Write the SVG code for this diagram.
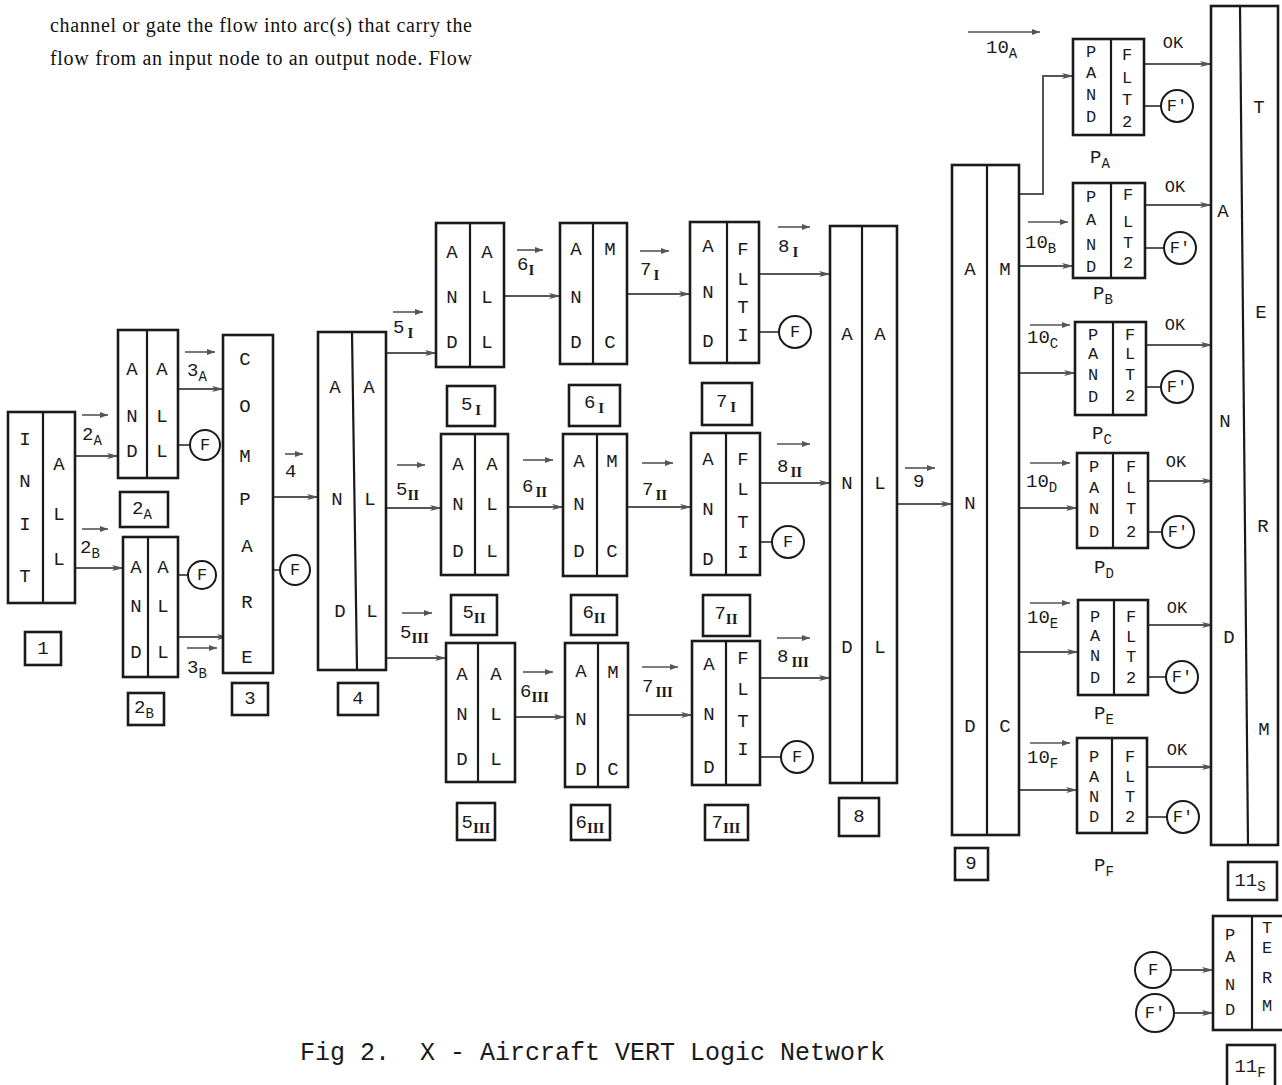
<svg xmlns="http://www.w3.org/2000/svg" width="1282" height="1085" viewBox="0 0 1282 1085">
<defs>
<style>
.b{fill:#fff;stroke:#1a1a1a;stroke-width:2.6}
.lb{fill:none;stroke:#1a1a1a;stroke-width:2.6}
.d{stroke:#1a1a1a;stroke-width:2.2}
.t{font-family:"Liberation Mono",monospace;font-size:19px;fill:#1a1a1a;text-anchor:middle;dominant-baseline:central}
.p{font-size:17px}
.lab{font-family:"Liberation Mono",monospace;font-size:19px;fill:#1a1a1a}
.mid{text-anchor:middle}
.sub{font-size:14px}
.rom{font-family:"Liberation Serif",serif;font-weight:bold;font-size:15px}
.c{fill:none;stroke:#555;stroke-width:2;marker-end:url(#ah)}
.s{stroke:#555;stroke-width:2}
.ov{stroke:#555;stroke-width:1.6;marker-end:url(#ahs)}
.fc{fill:#fff;stroke:#1a1a1a;stroke-width:2}
.para{font-family:"Liberation Serif",serif;font-size:20px;fill:#111}
.cap{font-family:"Liberation Mono",monospace;font-size:25px;fill:#1a1a1a}
</style>
<marker id="ah" viewBox="0 0 12 8" refX="11" refY="4" markerWidth="12" markerHeight="8" markerUnits="userSpaceOnUse" orient="auto"><path d="M0,1 L12,4 L0,7 L3,4 z" fill="#555"/></marker>
<marker id="ahs" viewBox="0 0 8 6" refX="8" refY="3" markerWidth="8" markerHeight="6" markerUnits="userSpaceOnUse" orient="auto"><path d="M0,0 L8,3 L0,6 z" fill="#555"/></marker>
</defs>
<rect width="1282" height="1085" fill="#fff"/>

<g id="paragraph">
<text class="para" x="50" y="32" textLength="422" lengthAdjust="spacing">channel or gate the flow into arc(s) that carry the</text>
<text class="para" x="50" y="65" textLength="422" lengthAdjust="spacing">flow from an input node to an output node. Flow</text>
</g>

<g id="connectors">
<path class="c" d="M75,456 H118"/>
<path class="c" d="M75,568 H123"/>
<path class="c" d="M178,389 H223"/>
<path class="c" d="M178,637 H228"/>
<path class="c" d="M273,497 H318"/>
<path class="c" d="M386,353 H436"/>
<path class="c" d="M386,508 H441"/>
<path class="c" d="M386,658 H446"/>
<path class="c" d="M504,296 H560"/>
<path class="c" d="M508,507 H563"/>
<path class="c" d="M515,717 H565"/>
<path class="c" d="M627,294 H690"/>
<path class="c" d="M627,507 H691"/>
<path class="c" d="M628,715 H692"/>
<path class="c" d="M759,274 H830"/>
<path class="c" d="M760,483 H830"/>
<path class="c" d="M760,678 H830"/>
<path class="c" d="M897,504 H952"/>
<path class="c" d="M1019,194 H1043 V76 H1073"/>
<path class="c" d="M1019,266 H1073"/>
<path class="c" d="M1019,373 H1075"/>
<path class="c" d="M1019,508 H1077"/>
<path class="c" d="M1019,652 H1078"/>
<path class="c" d="M1019,790 H1077"/>
<path class="c" d="M1144,64 H1211"/>
<path class="c" d="M1145,205 H1211"/>
<path class="c" d="M1146,345 H1212"/>
<path class="c" d="M1148,481 H1213"/>
<path class="c" d="M1148,625 H1213"/>
<path class="c" d="M1147,767 H1213"/>
<path class="c" d="M1171,970 H1213"/>
<path class="c" d="M1174,1013 H1213"/>
<line class="s" x1="178" y1="445" x2="190" y2="445"/>
<line class="s" x1="178" y1="575" x2="188" y2="575"/>
<line class="s" x1="273" y1="570" x2="280" y2="570"/>
<line class="s" x1="759" y1="332" x2="779" y2="332"/>
<line class="s" x1="760" y1="542" x2="772" y2="542"/>
<line class="s" x1="760" y1="757" x2="781" y2="757"/>
<line class="s" x1="1144" y1="106" x2="1161" y2="106"/>
<line class="s" x1="1145" y1="248" x2="1164" y2="248"/>
<line class="s" x1="1146" y1="387" x2="1161" y2="387"/>
<line class="s" x1="1148" y1="532" x2="1162" y2="532"/>
<line class="s" x1="1148" y1="677" x2="1166" y2="677"/>
<line class="s" x1="1147" y1="817" x2="1167" y2="817"/>
</g>

<g id="arc-labels">
<line class="ov" x1="82" y1="415" x2="108" y2="415"/><text class="lab" x="82" y="440">2<tspan class="sub" dy="5">A</tspan></text>
<line class="ov" x1="82" y1="529" x2="108" y2="529"/><text class="lab" x="80" y="553">2<tspan class="sub" dy="5">B</tspan></text>
<line class="ov" x1="185" y1="352" x2="215" y2="352"/><text class="lab" x="187" y="376">3<tspan class="sub" dy="5">A</tspan></text>
<line class="ov" x1="187" y1="648" x2="217" y2="648"/><text class="lab" x="187" y="673">3<tspan class="sub" dy="5">B</tspan></text>
<line class="ov" x1="285" y1="454" x2="303" y2="454"/><text class="lab" x="285" y="477">4</text>
<line class="ov" x1="393" y1="312" x2="423" y2="312"/><text class="lab" x="393" y="333">5<tspan class="rom" dx="3" dy="5">I</tspan></text>
<line class="ov" x1="397" y1="465" x2="425" y2="465"/><text class="lab" x="396" y="495">5<tspan class="rom" dy="5">II</tspan></text>
<line class="ov" x1="402" y1="613" x2="432" y2="613"/><text class="lab" x="400" y="638">5<tspan class="rom" dy="5">III</tspan></text>
<line class="ov" x1="517" y1="250" x2="543" y2="250"/><text class="lab" x="517" y="270">6<tspan class="rom" dy="5">I</tspan></text>
<line class="ov" x1="523" y1="460" x2="553" y2="460"/><text class="lab" x="522" y="492">6<tspan class="rom" dx="2" dy="5">II</tspan></text>
<line class="ov" x1="523" y1="672" x2="553" y2="672"/><text class="lab" x="520" y="697">6<tspan class="rom" dy="5">III</tspan></text>
<line class="ov" x1="640" y1="251" x2="669" y2="251"/><text class="lab" x="640" y="275">7<tspan class="rom" dx="2" dy="5">I</tspan></text>
<line class="ov" x1="642" y1="463" x2="673" y2="463"/><text class="lab" x="642" y="495">7<tspan class="rom" dx="2" dy="5">II</tspan></text>
<line class="ov" x1="642" y1="667" x2="678" y2="667"/><text class="lab" x="642" y="692">7<tspan class="rom" dx="2" dy="5">III</tspan></text>
<line class="ov" x1="778" y1="227" x2="810" y2="227"/><text class="lab" x="778" y="252">8<tspan class="rom" dx="3" dy="5">I</tspan></text>
<line class="ov" x1="777" y1="444" x2="810" y2="444"/><text class="lab" x="777" y="472">8<tspan class="rom" dx="2" dy="5">II</tspan></text>
<line class="ov" x1="777" y1="638" x2="810" y2="638"/><text class="lab" x="777" y="662">8<tspan class="rom" dx="3" dy="5">III</tspan></text>
<line class="ov" x1="905" y1="468" x2="935" y2="468"/><text class="lab" x="913" y="487">9</text>
<line class="ov" x1="968" y1="32" x2="1040" y2="32"/><text class="lab" x="986" y="53">10<tspan class="sub" dy="5">A</tspan></text>
<line class="ov" x1="1028" y1="222" x2="1068" y2="222"/><text class="lab" x="1025" y="248">10<tspan class="sub" dy="5">B</tspan></text>
<line class="ov" x1="1030" y1="325" x2="1070" y2="325"/><text class="lab" x="1027" y="343">10<tspan class="sub" dy="5">C</tspan></text>
<line class="ov" x1="1030" y1="463" x2="1070" y2="463"/><text class="lab" x="1026" y="487">10<tspan class="sub" dy="5">D</tspan></text>
<line class="ov" x1="1030" y1="603" x2="1070" y2="603"/><text class="lab" x="1027" y="623">10<tspan class="sub" dy="5">E</tspan></text>
<line class="ov" x1="1030" y1="743" x2="1070" y2="743"/><text class="lab" x="1027" y="763">10<tspan class="sub" dy="5">F</tspan></text>
<text class="t p" x="1173" y="43">OK</text>
<text class="t p" x="1175" y="187">OK</text>
<text class="t p" x="1175" y="325">OK</text>
<text class="t p" x="1176" y="462">OK</text>
<text class="t p" x="1177" y="608">OK</text>
<text class="t p" x="1177" y="750">OK</text>
</g>

<g id="n1">
<rect class="b" x="8" y="412" width="67" height="191"/><line class="d" x1="43" y1="412" x2="43" y2="603"/>
<text class="t" x="25" y="440">I</text><text class="t" x="25" y="482">N</text><text class="t" x="25" y="525">I</text><text class="t" x="25" y="577">T</text>
<text class="t" x="59" y="465">A</text><text class="t" x="59" y="515">L</text><text class="t" x="59" y="560">L</text>
<rect class="lb" x="25" y="632" width="36" height="33"/><text class="t" x="43" y="649">1</text>
</g>

<g id="n2A">
<rect class="b" x="118" y="330" width="60" height="148"/><line class="d" x1="147" y1="330" x2="147" y2="478"/>
<text class="t" x="132" y="370">A</text><text class="t" x="132" y="417">N</text><text class="t" x="132" y="452">D</text>
<text class="t" x="162" y="370">A</text><text class="t" x="162" y="417">L</text><text class="t" x="162" y="452">L</text>
<circle class="fc" cx="205" cy="445" r="15"/><text class="t p" x="205" y="445">F</text>
<rect class="lb" x="120" y="492" width="48" height="35"/><text class="lab mid" x="142" y="514">2<tspan class="sub" dy="5">A</tspan></text>
</g>

<g id="n2B">
<rect class="b" x="123" y="537" width="55" height="140"/><line class="d" x1="148" y1="537" x2="148" y2="677"/>
<text class="t" x="136" y="568">A</text><text class="t" x="136" y="607">N</text><text class="t" x="136" y="653">D</text>
<text class="t" x="163" y="568">A</text><text class="t" x="163" y="607">L</text><text class="t" x="163" y="653">L</text>
<circle class="fc" cx="202" cy="575" r="14"/><text class="t p" x="202" y="575">F</text>
<rect class="lb" x="128" y="693" width="36" height="32"/><text class="lab mid" x="144" y="713">2<tspan class="sub" dy="5">B</tspan></text>
</g>

<g id="n3">
<rect class="b" x="223" y="335" width="50" height="338"/>
<text class="t" x="245" y="360">C</text><text class="t" x="245" y="407">O</text><text class="t" x="245" y="457">M</text><text class="t" x="245" y="500">P</text><text class="t" x="247" y="547">A</text><text class="t" x="247" y="603">R</text><text class="t" x="247" y="658">E</text>
<circle class="fc" cx="295" cy="570" r="15"/><text class="t p" x="295" y="570">F</text>
<rect class="lb" x="232" y="683" width="36" height="32"/><text class="t" x="250" y="699">3</text>
</g>

<g id="n4">
<rect class="b" x="318" y="332" width="68" height="338"/><line class="d" x1="352" y1="332" x2="357" y2="670"/>
<text class="t" x="335" y="388">A</text><text class="t" x="337" y="500">N</text><text class="t" x="340" y="612">D</text>
<text class="t" x="369" y="388">A</text><text class="t" x="370" y="500">L</text><text class="t" x="372" y="612">L</text>
<rect class="lb" x="338" y="683" width="40" height="32"/><text class="t" x="358" y="699">4</text>
</g>

<g id="n5I">
<rect class="b" x="436" y="223" width="68" height="144"/><line class="d" x1="470" y1="223" x2="470" y2="367"/>
<text class="t" x="452" y="253">A</text><text class="t" x="452" y="298">N</text><text class="t" x="452" y="343">D</text>
<text class="t" x="487" y="253">A</text><text class="t" x="487" y="298">L</text><text class="t" x="487" y="343">L</text>
<rect class="lb" x="447" y="386" width="48" height="40"/><text class="lab mid" x="471" y="410">5<tspan class="rom" dx="3" dy="5">I</tspan></text>
</g>

<g id="n5II">
<rect class="b" x="441" y="434" width="67" height="141"/><line class="d" x1="475" y1="434" x2="475" y2="575"/>
<text class="t" x="458" y="465">A</text><text class="t" x="458" y="505">N</text><text class="t" x="458" y="552">D</text>
<text class="t" x="492" y="465">A</text><text class="t" x="492" y="505">L</text><text class="t" x="492" y="552">L</text>
<rect class="lb" x="451" y="595" width="46" height="40"/><text class="lab mid" x="474" y="618">5<tspan class="rom" dy="5">II</tspan></text>
</g>

<g id="n5III">
<rect class="b" x="446" y="643" width="69" height="139"/><line class="d" x1="478" y1="643" x2="478" y2="782"/>
<text class="t" x="462" y="675">A</text><text class="t" x="462" y="715">N</text><text class="t" x="462" y="760">D</text>
<text class="t" x="496" y="675">A</text><text class="t" x="496" y="715">L</text><text class="t" x="496" y="760">L</text>
<rect class="lb" x="457" y="803" width="38" height="37"/><text class="lab mid" x="476" y="828">5<tspan class="rom" dy="5">III</tspan></text>
</g>

<g id="n6I">
<rect class="b" x="560" y="223" width="67" height="141"/><line class="d" x1="593" y1="223" x2="593" y2="364"/>
<text class="t" x="576" y="250">A</text><text class="t" x="576" y="298">N</text><text class="t" x="576" y="343">D</text>
<text class="t" x="610" y="250">M</text><text class="t" x="610" y="343">C</text>
<rect class="lb" x="569" y="385" width="51" height="41"/><text class="lab mid" x="594" y="408">6<tspan class="rom" dx="3" dy="5">I</tspan></text>
</g>

<g id="n6II">
<rect class="b" x="563" y="434" width="64" height="142"/><line class="d" x1="597" y1="434" x2="597" y2="576"/>
<text class="t" x="579" y="462">A</text><text class="t" x="579" y="505">N</text><text class="t" x="579" y="552">D</text>
<text class="t" x="612" y="462">M</text><text class="t" x="612" y="552">C</text>
<rect class="lb" x="571" y="595" width="46" height="40"/><text class="lab mid" x="594" y="618">6<tspan class="rom" dy="5">II</tspan></text>
</g>

<g id="n6III">
<rect class="b" x="565" y="643" width="63" height="144"/><line class="d" x1="598" y1="643" x2="598" y2="787"/>
<text class="t" x="581" y="672">A</text><text class="t" x="581" y="720">N</text><text class="t" x="581" y="770">D</text>
<text class="t" x="613" y="673">M</text><text class="t" x="613" y="770">C</text>
<rect class="lb" x="571" y="805" width="39" height="35"/><text class="lab mid" x="590" y="828">6<tspan class="rom" dy="5">III</tspan></text>
</g>

<g id="n7I">
<rect class="b" x="690" y="222" width="69" height="141"/><line class="d" x1="727" y1="222" x2="727" y2="363"/>
<text class="t" x="708" y="247">A</text><text class="t" x="708" y="293">N</text><text class="t" x="708" y="342">D</text>
<text class="t" x="743" y="250">F</text><text class="t" x="743" y="280">L</text><text class="t" x="743" y="308">T</text><text class="t" x="743" y="336">I</text>
<circle class="fc" cx="795" cy="332" r="16"/><text class="t p" x="795" y="332">F</text>
<rect class="lb" x="702" y="383" width="50" height="42"/><text class="lab mid" x="726" y="407">7<tspan class="rom" dx="3" dy="5">I</tspan></text>
</g>

<g id="n7II">
<rect class="b" x="691" y="433" width="69" height="142"/><line class="d" x1="726" y1="433" x2="726" y2="575"/>
<text class="t" x="708" y="460">A</text><text class="t" x="708" y="510">N</text><text class="t" x="708" y="560">D</text>
<text class="t" x="743" y="460">F</text><text class="t" x="743" y="490">L</text><text class="t" x="743" y="523">T</text><text class="t" x="743" y="553">I</text>
<circle class="fc" cx="788" cy="542" r="16"/><text class="t p" x="788" y="542">F</text>
<rect class="lb" x="703" y="595" width="47" height="41"/><text class="lab mid" x="726" y="619">7<tspan class="rom" dy="5">II</tspan></text>
</g>

<g id="n7III">
<rect class="b" x="692" y="641" width="68" height="144"/><line class="d" x1="726" y1="641" x2="726" y2="785"/>
<text class="t" x="709" y="665">A</text><text class="t" x="709" y="715">N</text><text class="t" x="709" y="768">D</text>
<text class="t" x="743" y="659">F</text><text class="t" x="743" y="690">L</text><text class="t" x="743" y="722">T</text><text class="t" x="743" y="750">I</text>
<circle class="fc" cx="797" cy="757" r="16"/><text class="t p" x="797" y="757">F</text>
<rect class="lb" x="705" y="805" width="43" height="35"/><text class="lab mid" x="726" y="828">7<tspan class="rom" dy="5">III</tspan></text>
</g>

<g id="n8">
<rect class="b" x="830" y="226" width="67" height="557"/><line class="d" x1="862" y1="226" x2="862" y2="783"/>
<text class="t" x="847" y="335">A</text><text class="t" x="847" y="484">N</text><text class="t" x="847" y="648">D</text>
<text class="t" x="880" y="335">A</text><text class="t" x="880" y="484">L</text><text class="t" x="880" y="648">L</text>
<rect class="lb" x="839" y="798" width="40" height="38"/><text class="t" x="859" y="817">8</text>
</g>

<g id="n9">
<rect class="b" x="952" y="165" width="67" height="670"/><line class="d" x1="987" y1="165" x2="987" y2="835"/>
<text class="t" x="970" y="270">A</text><text class="t" x="970" y="504">N</text><text class="t" x="970" y="727">D</text>
<text class="t" x="1005" y="270">M</text><text class="t" x="1005" y="727">C</text>
<rect class="lb" x="955" y="848" width="33" height="32"/><text class="t" x="971" y="864">9</text>
</g>

<g id="nPA">
<rect class="b" x="1073" y="39" width="71" height="96"/><line class="d" x1="1111" y1="39" x2="1111" y2="135"/>
<text class="t p" x="1091" y="52">P</text><text class="t p" x="1091" y="73">A</text><text class="t p" x="1091" y="95">N</text><text class="t p" x="1091" y="117">D</text>
<text class="t p" x="1127" y="55">F</text><text class="t p" x="1127" y="78">L</text><text class="t p" x="1127" y="100">T</text><text class="t p" x="1127" y="122">2</text>
<circle class="fc" cx="1177" cy="106" r="16"/><text class="t p" x="1177" y="106">F′</text>
<text class="lab mid" x="1100" y="163">P<tspan class="sub" dy="5">A</tspan></text>
</g>

<g id="nPB">
<rect class="b" x="1073" y="183" width="72" height="95"/><line class="d" x1="1111" y1="183" x2="1111" y2="278"/>
<text class="t p" x="1091" y="197">P</text><text class="t p" x="1091" y="220">A</text><text class="t p" x="1091" y="245">N</text><text class="t p" x="1091" y="267">D</text>
<text class="t p" x="1128" y="195">F</text><text class="t p" x="1128" y="222">L</text><text class="t p" x="1128" y="243">T</text><text class="t p" x="1128" y="263">2</text>
<circle class="fc" cx="1180" cy="248" r="16"/><text class="t p" x="1180" y="248">F′</text>
<text class="lab mid" x="1103" y="299">P<tspan class="sub" dy="5">B</tspan></text>
</g>

<g id="nPC">
<rect class="b" x="1075" y="322" width="71" height="93"/><line class="d" x1="1113" y1="322" x2="1113" y2="415"/>
<text class="t p" x="1093" y="335">P</text><text class="t p" x="1093" y="354">A</text><text class="t p" x="1093" y="375">N</text><text class="t p" x="1093" y="397">D</text>
<text class="t p" x="1130" y="335">F</text><text class="t p" x="1130" y="354">L</text><text class="t p" x="1130" y="375">T</text><text class="t p" x="1130" y="396">2</text>
<circle class="fc" cx="1177" cy="387" r="16"/><text class="t p" x="1177" y="387">F′</text>
<text class="lab mid" x="1102" y="439">P<tspan class="sub" dy="5">C</tspan></text>
</g>

<g id="nPD">
<rect class="b" x="1077" y="453" width="71" height="95"/><line class="d" x1="1113" y1="453" x2="1113" y2="548"/>
<text class="t p" x="1094" y="467">P</text><text class="t p" x="1094" y="488">A</text><text class="t p" x="1094" y="509">N</text><text class="t p" x="1094" y="532">D</text>
<text class="t p" x="1131" y="467">F</text><text class="t p" x="1131" y="488">L</text><text class="t p" x="1131" y="509">T</text><text class="t p" x="1131" y="532">2</text>
<circle class="fc" cx="1178" cy="532" r="16"/><text class="t p" x="1178" y="532">F′</text>
<text class="lab mid" x="1104" y="573">P<tspan class="sub" dy="5">D</tspan></text>
</g>

<g id="nPE">
<rect class="b" x="1078" y="600" width="70" height="95"/><line class="d" x1="1114" y1="600" x2="1114" y2="695"/>
<text class="t p" x="1095" y="617">P</text><text class="t p" x="1095" y="636">A</text><text class="t p" x="1095" y="656">N</text><text class="t p" x="1095" y="678">D</text>
<text class="t p" x="1131" y="617">F</text><text class="t p" x="1131" y="637">L</text><text class="t p" x="1131" y="657">T</text><text class="t p" x="1131" y="678">2</text>
<circle class="fc" cx="1182" cy="677" r="16"/><text class="t p" x="1182" y="677">F′</text>
<text class="lab mid" x="1104" y="719">P<tspan class="sub" dy="5">E</tspan></text>
</g>

<g id="nPF">
<rect class="b" x="1077" y="738" width="70" height="95"/><line class="d" x1="1112" y1="738" x2="1112" y2="833"/>
<text class="t p" x="1094" y="757">P</text><text class="t p" x="1094" y="777">A</text><text class="t p" x="1094" y="797">N</text><text class="t p" x="1094" y="817">D</text>
<text class="t p" x="1130" y="757">F</text><text class="t p" x="1130" y="777">L</text><text class="t p" x="1130" y="797">T</text><text class="t p" x="1130" y="817">2</text>
<circle class="fc" cx="1183" cy="817" r="16"/><text class="t p" x="1183" y="817">F′</text>
<text class="lab mid" x="1104" y="871">P<tspan class="sub" dy="5">F</tspan></text>
</g>

<g id="n11S">
<rect class="b" x="1211" y="6" width="67" height="839"/><line class="d" x1="1240" y1="6" x2="1248" y2="845"/>
<text class="t" x="1223" y="212">A</text><text class="t" x="1225" y="422">N</text><text class="t" x="1229" y="638">D</text>
<text class="t" x="1259" y="108">T</text><text class="t" x="1261" y="313">E</text><text class="t" x="1263" y="527">R</text><text class="t" x="1264" y="730">M</text>
<rect class="lb" x="1228" y="862" width="49" height="38"/><text class="lab mid" x="1250" y="886">11<tspan class="sub" dy="5">S</tspan></text>
</g>

<g id="n11F">
<rect class="b" x="1213" y="916" width="80" height="114"/><line class="d" x1="1252" y1="916" x2="1252" y2="1030"/>
<text class="t p" x="1230" y="935">P</text><text class="t p" x="1230" y="957">A</text><text class="t p" x="1230" y="985">N</text><text class="t p" x="1230" y="1010">D</text>
<text class="t p" x="1267" y="928">T</text><text class="t p" x="1267" y="948">E</text><text class="t p" x="1267" y="978">R</text><text class="t p" x="1267" y="1006">M</text>
<circle class="fc" cx="1153" cy="970" r="18"/><text class="t p" x="1153" y="970">F</text>
<circle class="fc" cx="1155" cy="1013" r="19"/><text class="t p" x="1155" y="1013">F′</text>
<rect class="lb" x="1227" y="1045" width="48" height="45"/><text class="lab mid" x="1250" y="1072">11<tspan class="sub" dy="5">F</tspan></text>
</g>

<g id="caption">
<text class="cap" x="300" y="1060" xml:space="preserve">Fig 2.  X - Aircraft VERT Logic Network</text>
</g>
</svg>
